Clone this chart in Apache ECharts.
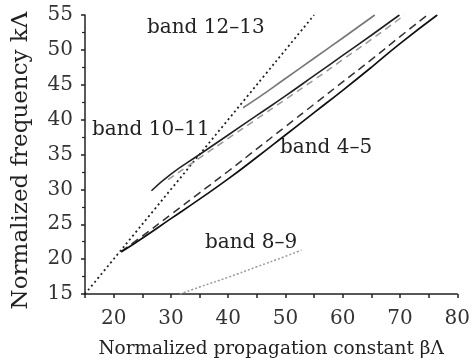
<!DOCTYPE html>
<html lang="en">
<head>
  <meta charset="UTF-8">
  <title>Band diagram</title>
  <style>
    body { margin: 0; padding: 0; background: #fff; }
    #chart { width: 473px; height: 364px; }
  </style>
</head>
<body>
  <div id="chart"></div>
  <script src="https://cdn.jsdelivr.net/npm/echarts@6/dist/echarts.min.js"></script>
  <script>
    // light line k = beta
    const lightLine = [[15, 15], [55, 55]];
    // band 4-5
    const band45Solid = [[21.3, 21], [25, 23.0], [30, 25.8], [35, 28.6], [40, 31.5], [45, 34.6],
      [50, 37.8], [55, 41.0], [60, 44.2], [65, 47.5], [70, 50.9], [76.5, 55]];
    const band45Dash = [[21.3, 21.1], [25, 23.3], [30, 26.4], [35, 29.5], [40, 32.6], [45, 35.8],
      [50, 39.0], [55, 42.2], [60, 45.4], [65, 48.6], [70, 51.9], [74.8, 55]];
    // band 10-11
    const band1011Solid = [[26.6, 29.8], [30, 32.2], [35, 35.0], [40, 37.8], [45, 40.6], [50, 43.4],
      [55, 46.3], [60, 49.2], [65, 52.1], [69.9, 55]];
    const band1011Dash = [[29.5, 31.4], [35, 34.5], [40, 37.3], [45, 40.1], [50, 42.9], [55, 45.7],
      [60, 48.6], [65, 51.5], [70.8, 55]];
    // band 12-13
    const band1213 = [[42.6, 41.7], [45, 43.0], [50, 45.9], [55, 48.8], [60, 51.7], [65.6, 55]];
    // band 8-9
    const band89 = [[31.6, 15], [35, 16.0], [40, 17.4], [45, 18.9], [50, 20.4], [52.8, 21.3]];

    const bandLabels = ['band 12\u201313', 'band 10\u201311', 'band 4\u20135', 'band 8\u20139'];

    const serif = '"DejaVu Serif", serif';
    const chart = echarts.init(document.getElementById('chart'));

    function line(data, color, type, width) {
      return {
        type: 'line',
        data: data,
        showSymbol: false,
        smooth: true,
        silent: true,
        lineStyle: { color: color, type: type, width: width }
      };
    }

    function label(text, left, top) {
      return {
        type: 'text',
        left: left,
        top: top,
        style: { text: text, font: '20px ' + serif, fill: '#222' }
      };
    }

    const option = {
      animation: false,
      grid: { left: 85, right: 15, top: 15, bottom: 70 },
      xAxis: {
        type: 'value',
        min: 15,
        max: 80,
        interval: 5,
        name: 'Normalized propagation constant \u03b2\u039b',
        nameLocation: 'middle',
        nameGap: 46,
        nameTextStyle: { fontFamily: serif, fontSize: 18.5, color: '#222' },
        axisLine: { show: true, onZero: false, lineStyle: { color: '#222', width: 1.5 } },
        axisTick: { show: true, length: 4, lineStyle: { color: '#222', width: 1.5 } },
        axisLabel: {
          margin: 15,
          fontFamily: serif,
          fontSize: 20,
          color: '#333',
          formatter: function (v) { return v % 10 === 0 ? String(v) : ''; }
        },
        splitLine: { show: false }
      },
      yAxis: {
        type: 'value',
        min: 15,
        max: 55,
        interval: 5,
        name: 'Normalized frequency k\u039b',
        nameLocation: 'middle',
        nameGap: 52,
        nameTextStyle: { fontFamily: serif, fontSize: 23, color: '#222', padding: [0, 12, 0, 0] },
        axisLine: { show: true, onZero: false, lineStyle: { color: '#222', width: 1.5 } },
        axisTick: { show: true, length: 4, lineStyle: { color: '#222', width: 1.5 } },
        minorTick: { show: true, splitNumber: 2, length: 3, lineStyle: { color: '#222', width: 1.2 } },
        axisLabel: { margin: 12, fontFamily: serif, fontSize: 20, color: '#333' },
        splitLine: { show: false }
      },
      series: [
        line(lightLine, '#222', [2, 3], 1.8),
        line(band89, '#999', [2, 2], 1.5),
        line(band1213, '#777', 'solid', 1.6),
        line(band1011Dash, '#999', [7, 5], 1.5),
        line(band1011Solid, '#222', 'solid', 1.6),
        line(band45Dash, '#333', [8, 5], 1.5),
        line(band45Solid, '#111', 'solid', 1.7)
      ],
      graphic: [
        label(bandLabels[0], 147, 18),
        label(bandLabels[1], 92, 120),
        label(bandLabels[2], 280, 138),
        label(bandLabels[3], 205, 233)
      ]
    };

    chart.setOption(option);
  </script>
</body>
</html>
